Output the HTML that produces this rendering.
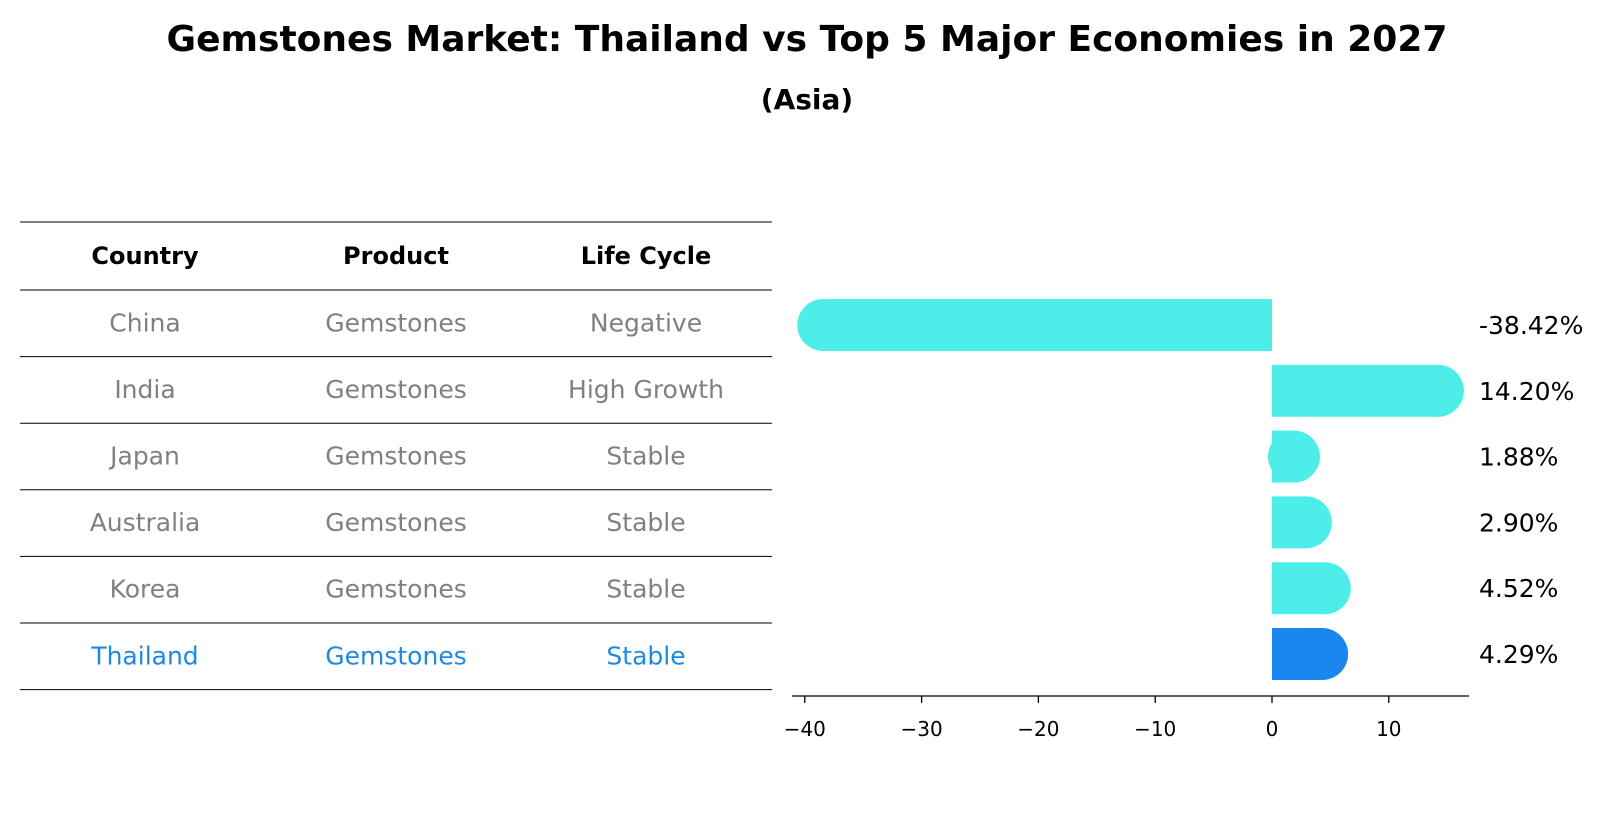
<!DOCTYPE html>
<html><head><meta charset="utf-8"><style>
body{margin:0;background:#fff;}
svg{display:block;font-family:"DejaVu Sans","Liberation Sans",sans-serif;}
</style></head><body>
<svg id="chart" width="1614" height="823" viewBox="0 0 1614 823">
<text x="807" y="51" text-anchor="middle" font-size="36" font-weight="bold">Gemstones Market: Thailand vs Top 5 Major Economies in 2027</text>
<text x="807" y="109" text-anchor="middle" font-size="28" font-weight="bold">(Asia)</text>
<g id="table"></g>
<g id="bars"></g>
<g id="axis"></g>
</svg>
<script>
const countries=["China","India","Japan","Australia","Korea","Thailand"];
const products=["Gemstones","Gemstones","Gemstones","Gemstones","Gemstones","Gemstones"];
const lifeCycles=["Negative","High Growth","Stable","Stable","Stable","Stable"];
const values=[-38.42,14.20,1.88,2.90,4.52,4.29];
const valueLabels=["-38.42%","14.20%","1.88%","2.90%","4.52%","4.29%"];
const ticks=[-40,-30,-20,-10,0,10];
const NS="http://www.w3.org/2000/svg";
function mk(tag,attrs,parent){const e=document.createElementNS(NS,tag);for(const k in attrs)e.setAttribute(k,attrs[k]);parent.appendChild(e);return e;}
const x=v=>1272+v*11.68;
const rowY=i=>325+i*65.8;
const rowH=52;
const tbl=document.getElementById('table');
const lineYs=[222,290];
for(let i=0;i<countries.length;i++)lineYs.push(290+(i+1)*66.6);
lineYs.forEach((ly,i)=>{const l=mk('line',{x1:20,x2:772,y1:ly,y2:ly,stroke:'#000','stroke-width':1},tbl);

});
const colX=[145,396,646];
["Country","Product","Life Cycle"].forEach((h,i)=>{const t=mk('text',{x:colX[i],y:264,'text-anchor':'middle','font-size':24,'font-weight':'bold'},tbl);t.textContent=h;

});
countries.forEach((c,i)=>{const cy=(lineYs[i+1]+lineYs[i+2])/2+8;const col=i===countries.length-1?'#1e88e5':'#808080';
[c,products[i],lifeCycles[i]].forEach((v,j)=>{const t=mk('text',{x:colX[j],y:cy,'text-anchor':'middle','font-size':25,fill:col},tbl);t.textContent=v;

});});
const bars=document.getElementById('bars');
values.forEach((v,i)=>{const col=i===values.length-1?'#1a86f0':'#4deee9';const cy=rowY(i);const x0=x(0),x1=x(v);
const g=mk('g',{},bars);


mk('rect',{x:Math.min(x0,x1),y:cy-rowH/2,width:Math.abs(x1-x0),height:rowH,fill:col},g);
mk('ellipse',{cx:x1,cy:cy,rx:rowH/2,ry:rowH/2,fill:col},g);
const t=mk('text',{x:1479,y:cy+9,'font-size':25},bars);t.textContent=valueLabels[i];

});
const ax=document.getElementById('axis');
mk('line',{x1:792,x2:1469,y1:696,y2:696,stroke:'#000','stroke-width':1.3},ax);
ticks.forEach(tv=>{mk('line',{x1:x(tv),x2:x(tv),y1:696,y2:703,stroke:'#000','stroke-width':1.3},ax);
const t=mk('text',{x:x(tv),y:736,'text-anchor':'middle','font-size':20},ax);t.textContent=tv<0?'\u2212'+Math.abs(tv):tv;

});
</script>
</body></html>
